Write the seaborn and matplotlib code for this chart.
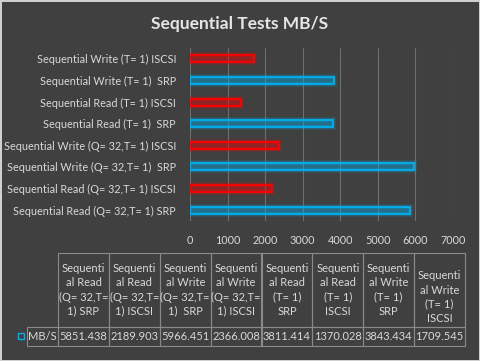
import matplotlib
matplotlib.use("Agg")
import matplotlib.pyplot as plt
import matplotlib.patheffects as pe
from matplotlib.patches import Rectangle
import seaborn as sns
import pandas as pd

# ---- data (table order, i.e. bottom-to-top of the bar chart) ----
labels = [
    "Sequential Read (Q= 32,T= 1) SRP",
    "Sequential Read (Q= 32,T= 1) ISCSI",
    "Sequential Write (Q= 32,T= 1)  SRP",
    "Sequential Write (Q= 32,T= 1) ISCSI",
    "Sequential Read (T= 1)  SRP",
    "Sequential Read (T= 1) ISCSI",
    "Sequential Write (T= 1)  SRP",
    "Sequential Write (T= 1) ISCSI",
]
protocols = ["SRP", "ISCSI", "SRP", "ISCSI", "SRP", "ISCSI", "SRP", "ISCSI"]
values = [5851.438, 2189.903, 5966.451, 2366.008, 3811.414, 1370.028, 3843.434, 1709.545]
value_text = ["5851.438", "2189.903", "5966.451", "2366.008",
              "3811.414", "1370.028", "3843.434", "1709.545"]
header_labels = [
    "Sequenti\nal Read\n(Q= 32,T=\n1) SRP",
    "Sequenti\nal Read\n(Q= 32,T=\n1) ISCSI",
    "Sequenti\nal Write\n(Q= 32,T=\n1)  SRP",
    "Sequenti\nal Write\n(Q= 32,T=\n1) ISCSI",
    "Sequenti\nal Read\n(T= 1)\nSRP",
    "Sequenti\nal Read\n(T= 1)\nISCSI",
    "Sequenti\nal Write\n(T= 1)\nSRP",
    "\nSequenti\nal Write\n(T= 1)\nISCSI",
]
series_name = "MB/S"
xticks = [0, 1000, 2000, 3000, 4000, 5000, 6000, 7000]
title = "Sequential Tests MB/S"

BG = "#404040"
TXT = "#d9d9d9"
palette = {"SRP": "#00b0f0", "ISCSI": "#ff0000"}

sns.set_theme(style="dark")
plt.rcParams["font.family"] = ["Lato", "DejaVu Sans"]

df = pd.DataFrame({"label": labels, "proto": protocols, "value": values})

W, H = 480, 361
fig = plt.figure(figsize=(4.8, 3.61), dpi=100)
fig.patch.set_facecolor(BG)
fig.patch.set_edgecolor("#d0d0d0")
fig.patch.set_linewidth(2)

ax = fig.add_axes([190 / W, 1 - 221 / H, 263 / W, 173 / H])
ax.set_facecolor(BG)
sns.barplot(data=df, y="label", x="value", hue="proto", palette=palette,
            order=labels[::-1], dodge=False, legend=False, width=0.32,
            saturation=1, ax=ax)

for p in ax.patches:
    c = p.get_facecolor()
    p.set_edgecolor(c)
    p.set_facecolor((c[0], c[1], c[2], 0.10))
    p.set_linewidth(1.3)
    p.set_path_effects([
        pe.Stroke(linewidth=4.5, foreground=c, alpha=0.12),
        pe.Stroke(linewidth=3, foreground=c, alpha=0.2),
        pe.Normal(),
    ])

ax.set_xlim(0, 7000)
ax.set_xticks(xticks)
ax.set_xticklabels([str(t) for t in xticks])
ax.set_xlabel("")
ax.set_ylabel("")
ax.grid(axis="x", color="#6e6e6e", linewidth=0.8)
ax.grid(axis="y", visible=False)
ax.set_axisbelow(True)
for s in ax.spines.values():
    s.set_visible(False)
ax.tick_params(axis="y", colors=TXT, labelsize=7.8, length=0, pad=10)
ax.tick_params(axis="x", colors=TXT, labelsize=7.8, length=0, pad=10)

fig.text(0.5, 1 - 24 / H, title, ha="center", va="center",
         fontsize=12.5, fontweight="bold", color="#e6e6e6")

# ---- data table ----
tax = fig.add_axes([0, 0, 1, 1])
tax.set_axis_off()
tax.set_xlim(0, 1)
tax.set_ylim(0, 1)
tbl = tax.table(cellText=[value_text], rowLabels=[series_name],
                colLabels=header_labels, cellLoc="center", rowLoc="right",
                colLoc="center",
                bbox=[58 / W, 1 - 346 / H, 407 / W, 93 / H])
tbl.auto_set_font_size(False)
for (r, c), cell in tbl.get_celld().items():
    cell.set_facecolor("none")
    cell.set_edgecolor("#8a8a8a")
    cell.set_linewidth(0.8)
    cell.get_text().set_color(TXT)
    cell.get_text().set_fontsize(8)
    cell.set_width((44 if c == -1 else 50.875) / W)
    if r == 0:
        cell.set_height(74 / H)
        cell.get_text().set_linespacing(1.35)
    else:
        cell.set_height(19 / H)
    if c == -1:
        cell.PAD = 0.05

# legend key in row-label cell
fig.patches.append(Rectangle((18 / W, 1 - 339 / H), 6 / W, 6 / H,
                             transform=fig.transFigure, fill=False,
                             edgecolor="#00b0f0", linewidth=1.0))

fig.savefig("out.png", dpi=100, facecolor=BG, edgecolor=fig.patch.get_edgecolor())
